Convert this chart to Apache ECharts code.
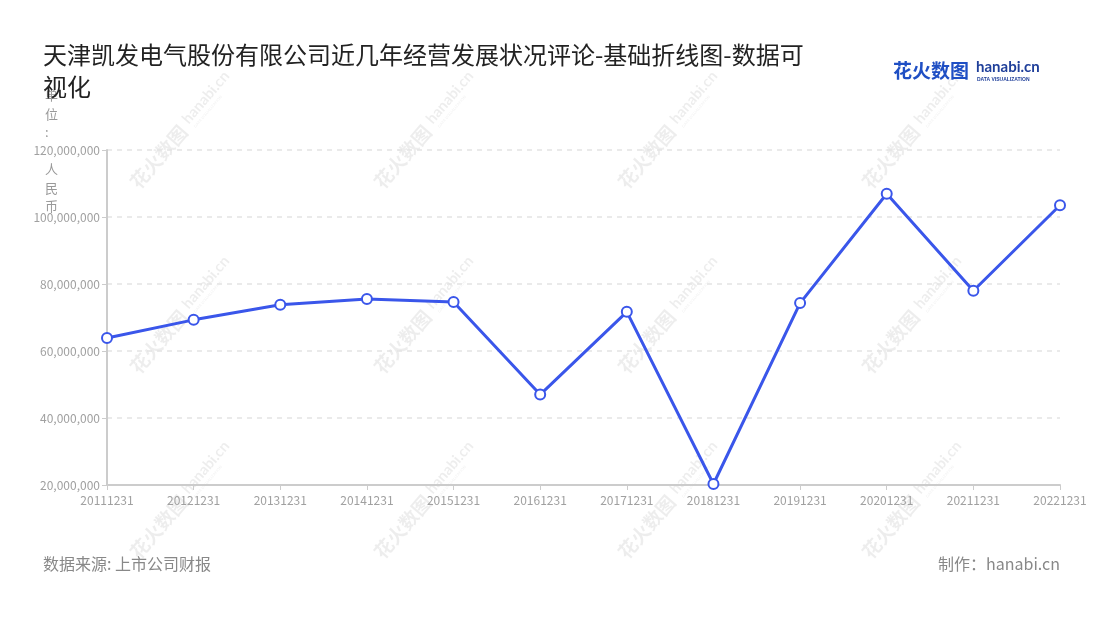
<!DOCTYPE html>
<html><head><meta charset="utf-8">
<script src="https://cdn.jsdelivr.net/npm/echarts@6/dist/echarts.min.js"></script>
<style>html,body{margin:0;padding:0;background:#fff}#c{width:1100px;height:620px}</style>
</head><body><div id="c"></div>
<script>
const categories = ['20111231','20121231','20131231','20141231','20151231','20161231','20171231','20181231','20191231','20201231','20211231','20221231'];
const values = [63900000, 69300000, 73800000, 75500000, 74600000, 47000000, 71700000, 20300000, 74300000, 106950000, 78000000, 103500000];
const yMin = 20000000, yMax = 120000000, yStep = 20000000;
const titleText = '天津凯发电气股份有限公司近几年经营发展状况评论-基础折线图-数据可视化';
const unitText = '单\n位\n:\n\n人\n民\n币';
const sourceText = '数据来源: 上市公司财报';
const makerText = '制作：hanabi.cn';

const FONT = '"Noto Sans CJK SC","Noto Sans",sans-serif';
const chart = echarts.init(document.getElementById('c'), null, {renderer:'canvas'});

const wmCols = [186, 430, 674, 918];
const wmRows = [125, 310, 495];
const wmColor = 'rgba(0,0,0,0.07)';
const watermarks = [];
wmRows.forEach(y => wmCols.forEach(x => {
  watermarks.push({
    type:'group', x:x, y:y, rotation: 0.86, silent:true, z:-10,
    children:[
      {type:'text', x:-80, y:0, style:{text:'花火数图', font:'bold 19px '+FONT, fill:wmColor, verticalAlign:'middle'}},
      {type:'text', x:2, y:-3, style:{text:'hanabi.cn', font:'bold 15px Lato, sans-serif', fill:wmColor, verticalAlign:'middle'}},
      {type:'text', x:4, y:8, style:{text:'DATA VISUALIZATION', font:'4px sans-serif', fill:wmColor, verticalAlign:'middle'}}
    ]
  });
}));

chart.setOption({
  backgroundColor:'#fff',
  animation:false,
  title:{
    text:titleText, left:38, top:34,
    textStyle:{fontFamily:FONT, fontSize:24, fontWeight:'normal', color:'#222', width:775, overflow:'break', lineHeight:32}
  },
  grid:{left:107, right:40, top:150, bottom:135},
  xAxis:{
    type:'category', data:categories, boundaryGap:false,
    axisLine:{lineStyle:{color:'#ccc', width:2}},
    axisTick:{show:true, length:5, lineStyle:{color:'#ccc'}},
    axisLabel:{color:'#a0a0a0', fontSize:12, fontFamily:FONT, margin:9}
  },
  yAxis:{
    type:'value', min:yMin, max:yMax, interval:yStep,
    axisLine:{show:true, lineStyle:{color:'#ccc', width:2}},
    axisTick:{show:true, length:5, lineStyle:{color:'#ccc'}},
    axisLabel:{color:'#a0a0a0', fontSize:12, fontFamily:FONT, margin:7,
      formatter: v => v.toLocaleString('en-US')},
    splitLine:{lineStyle:{color:'#e3e3e3', type:[5,5], width:1.5}}
  },
  series:[{
    type:'line', data:values, smooth:false,
    symbol:'circle', symbolSize:10,
    lineStyle:{color:'#3a56ea', width:3},
    itemStyle:{color:'#fff', borderColor:'#3a56ea', borderWidth:2},
    z:5
  }],
  graphic:[
    ...watermarks,
    {type:'text', left:45, top:86, style:{text:unitText, font:'13px '+FONT, fill:'#999', lineHeight:18.5, align:'center'}},
    {type:'text', left:43, top:556, style:{text:sourceText, font:'16px '+FONT, fill:'#888'}},
    {type:'text', right:40, top:556, style:{text:makerText, font:'16px '+FONT, fill:'#888'}},
    {type:'text', left:893, top:61, style:{text:'花火数图', font:'bold 19px '+FONT, fill:'#1f4fc4'}},
    {type:'text', left:976, top:60, style:{text:'hanabi.cn', font:'bold 15px Lato, sans-serif', fill:'#1f3f9a'}},
    {type:'text', left:977, top:77, style:{text:'DATA VISUALIZATION', font:'bold 5px sans-serif', fill:'#1f3f9a'}}
  ]
});
</script></body></html>
